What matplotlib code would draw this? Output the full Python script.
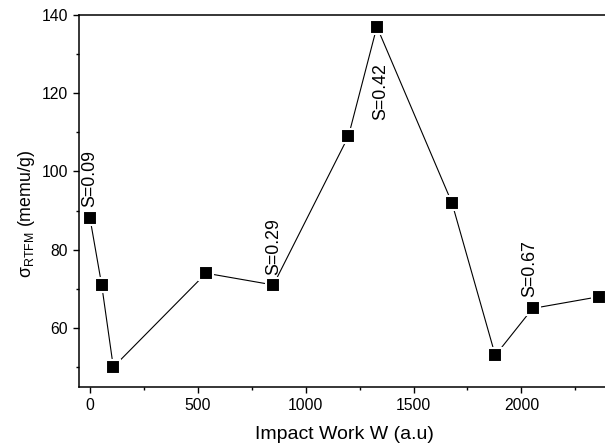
import numpy as np
import matplotlib.pyplot as plt
from matplotlib.ticker import MultipleLocator

plt.rcParams['font.family'] = ['Liberation Sans', 'DejaVu Sans']
plt.rcParams['mathtext.fontset'] = 'custom'
plt.rcParams['mathtext.rm'] = 'Liberation Sans'
plt.rcParams['mathtext.it'] = 'Liberation Sans:italic'

# datos
trabajo = [0, 54, 108, 538, 850, 1198, 1330, 1678, 1879, 2052, 2360]
sigma = [88, 71, 50, 74, 71, 109, 137, 92, 53, 65, 68]
etiquetas = ['S=0.09', 'S=0.29', 'S=0.42', 'S=0.67']
idx_etiquetas = [0, 4, 6, 9]

fig = plt.figure(figsize=(6.05, 4.46), dpi=100)
ax = fig.add_axes([0.131, 0.133, 0.8912, 0.8334])

ax.plot(trabajo, sigma, color='black', lw=0.8, marker='s', markersize=9.4,
        markerfacecolor='black', markeredgecolor='white', markeredgewidth=1.5)

# etiquetas giradas
offsets = [(0, 8), (0, 7), (2.4, -26.4), (-2, 8)]
for txt, i, off in zip(etiquetas, idx_etiquetas, offsets):
    va = 'bottom' if off[1] > 0 else 'top'
    ax.annotate(txt, (trabajo[i], sigma[i]), xytext=off, textcoords='offset points',
                rotation=90, ha='center', va=va, fontsize=12.8)

ax.set_xlim(-50, 2450)
ax.set_ylim(45, 140)
ax.xaxis.set_major_locator(MultipleLocator(500))
ax.xaxis.set_minor_locator(MultipleLocator(250))
ax.yaxis.set_major_locator(MultipleLocator(20))
ax.yaxis.set_minor_locator(MultipleLocator(10))
ax.tick_params(which='both', direction='out', labelsize=11.3, width=1)
ax.tick_params(which='major', length=4.5)
ax.tick_params(which='minor', length=2.5)
for s in ax.spines.values():
    s.set_linewidth(1.1)

ax.set_xlabel('Impact Work W (a.u)', fontsize=14)
ax.xaxis.set_label_coords(0.491, -0.105)
ax.set_ylabel('σ$_{\\mathrm{RTFM}}$ (memu/g)', fontsize=12.8)
ax.yaxis.set_label_coords(-0.079, 0.465)

plt.savefig('out.png', dpi=100)
